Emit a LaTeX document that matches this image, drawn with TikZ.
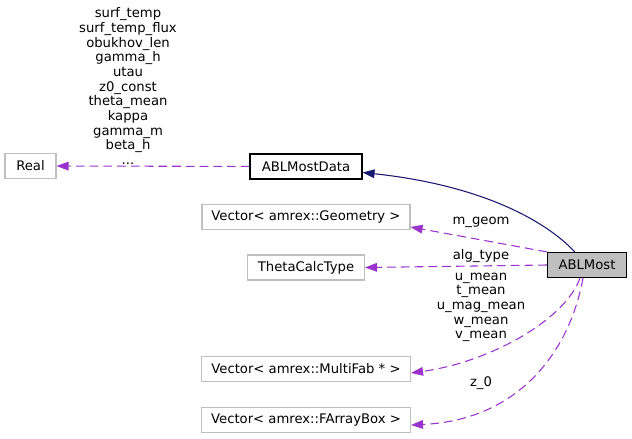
\documentclass[tikz,border=0pt]{standalone}
\usepackage{fontspec}
\setmainfont{DejaVu Sans}
\usetikzlibrary{arrows.meta,calc}
\definecolor{edgepurple}{HTML}{9A32CD}
\definecolor{edgenavy}{HTML}{191970}
\definecolor{boxgray}{HTML}{BFBFBF}
\begin{document}
\begin{tikzpicture}[x=0.75pt,y=-0.75pt,
  every node/.style={font=\fontsize{9.9pt}{11pt}\selectfont, text=black},
  cls/.style={draw=boxgray, line width=0.8pt, minimum height=25*0.75pt, inner sep=0pt, fill=white},
  refcls/.style={draw=black, line width=0.8pt, minimum height=25*0.75pt, inner sep=0pt, fill=white},
  maincls/.style={draw=black, line width=0.9pt, minimum height=25*0.75pt, inner sep=0pt, fill=boxgray},
  usage/.style={draw=edgepurple, line width=0.8pt, dashed, dash pattern=on 6.5pt off 3.8pt, -{Triangle[length=9pt,width=6.5pt]}},
  inherit/.style={draw=edgenavy, line width=0.8pt, -{Triangle[length=9pt,width=6.5pt]}},
  lbl/.style={align=center, inner sep=0pt}
]
\useasboundingbox (0,0) rectangle (632,439);
\node[cls, minimum width=51*0.75pt] (real) at (30.5,166) {Real};
\node[refcls, minimum width=112*0.75pt] (data) at (306,166.5) {ABLMostData};
\node[cls, minimum width=208*0.75pt] (geom) at (306,217) {Vector< amrex::Geometry >};
\node[cls, minimum width=117*0.75pt] (theta) at (306,267.5) {ThetaCalcType};
\node[maincls, minimum width=79*0.75pt] (most) at (587,265) {ABLMost};
\node[cls, minimum width=209*0.75pt] (mfab) at (306,369) {Vector< amrex::MultiFab * >};
\node[cls, minimum width=209*0.75pt] (fab) at (306,420) {Vector< amrex::FArrayBox >};

\draw[inherit] (most) .. controls (545,220) and (480,185) .. (data);
\draw[usage] (data) -- (real);
\draw[usage] (most.north west) -- ($(geom.east)+(0,10)$);
\draw[usage] (most.west) -- (theta.east);
\draw[usage] ($(most.south)+(-7,0)$) .. controls (565,320) and (490,362) .. ($(mfab.east)+(0,4)$);
\draw[usage] ($(most.south)+(-4,0)$) .. controls (570,350) and (520,420) .. ($(fab.east)+(0,5)$);

\node[lbl] (lreal) at (128,86) {surf\_temp\\surf\_temp\_flux\\obukhov\_len\\gamma\_h\\utau\\z0\_const\\theta\_mean\\kappa\\gamma\_m\\beta\_h\\...};
\node[lbl] (lgeom) at (481,222) {m\_geom};
\node[lbl] (ltheta) at (481,256) {alg\_type};
\node[lbl] (lmfab) at (481,307.5) {u\_mean\\t\_mean\\u\_mag\_mean\\w\_mean\\v\_mean};
\node[lbl] (lfab) at (481,383) {z\_0};
\end{tikzpicture}
\end{document}
